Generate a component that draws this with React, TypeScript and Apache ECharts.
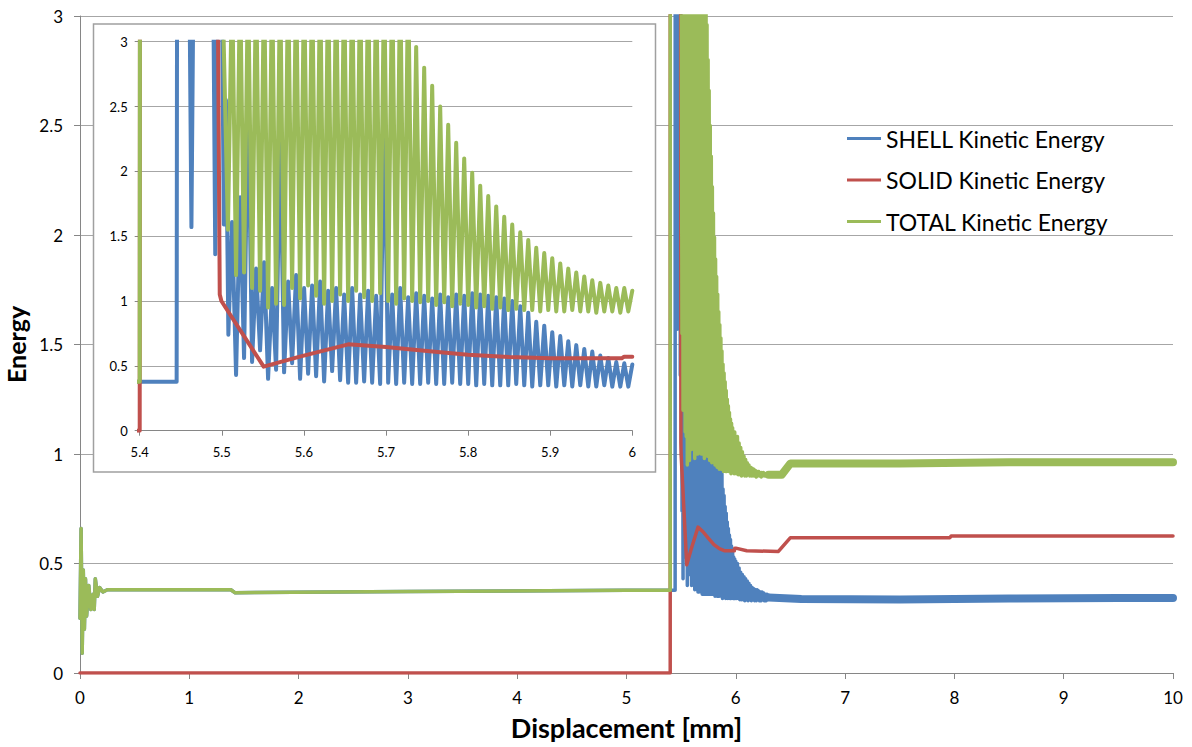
import React, { useEffect, useRef } from 'react';
import * as echarts from 'echarts';

const FONT = 'Lato, "Open Sans", sans-serif';
const BLUE = '#4F81BD';
const RED = '#C0504D';
const GREEN = '#9BBB59';
const GRID = '#A6A6A6';
const AXIS = '#868686';

const SHELL = 'SHELL Kinetic Energy';
const SOLID = 'SOLID Kinetic Energy';
const TOTAL = 'TOTAL Kinetic Energy';
const legendNames = [SHELL, SOLID, TOTAL];

// ---- before the contact (x < 5.4) ----
const totalStart: number[][] = [
  [0, 0.25], [0.01, 0.66], [0.02, 0.09], [0.03, 0.47], [0.04, 0.2], [0.05, 0.43], [0.06, 0.26],
  [0.08, 0.4], [0.1, 0.29], [0.12, 0.36], [0.13, 0.29], [0.14, 0.43], [0.16, 0.35], [0.18, 0.39],
  [0.21, 0.37], [0.25, 0.38], [1.38, 0.38], [1.42, 0.366], [1.6, 0.368], [3.0, 0.372], [5.0, 0.378], [5.4, 0.378],
];
const shellStart: number[][] = [
  [0, 0.25], [0.01, 0.66], [0.02, 0.09], [0.03, 0.47], [0.04, 0.2], [0.05, 0.43], [0.06, 0.26],
  [0.08, 0.4], [0.1, 0.29], [0.12, 0.36], [0.13, 0.29], [0.14, 0.43], [0.16, 0.35], [0.18, 0.39],
  [0.21, 0.37], [0.25, 0.38], [1.38, 0.38], [1.42, 0.366], [1.6, 0.368], [3.0, 0.372], [5.0, 0.378], [5.4, 0.378],
];
const solidStart: number[][] = [[0, 0], [5.4, 0]];

// ---- the jump at contact (5.4 - 5.51) ----
const totalJump: number[][] = [[5.4, 0.378], [5.4003, 3.5], [5.5005, 3.5], [5.5075, 1.55]];
const shellJump: number[][] = [
  [5.445, 0.378], [5.4455, 3.5], [5.4605, 3.5], [5.463, 1.57], [5.4655, 3.5], [5.4895, 3.5],
  [5.492, 1.36], [5.4945, 3.5], [5.5, 3.5], [5.5025, 1.59], [5.505, 2.55], [5.508, 0.74],
];
const solidPath: number[][] = [
  [5.4, 0], [5.4003, 3.5], [5.495, 3.5], [5.4975, 1.05], [5.4995, 1.0], [5.551, 0.494], [5.595, 0.571],
  [5.654, 0.666], [5.7, 0.645], [5.75, 0.615], [5.8, 0.586], [5.85, 0.568], [5.9, 0.558],
  [5.987, 0.558], [5.99, 0.57], [6.0, 0.57],
];
const solidEnd: number[][] = [
  [6.1, 0.558], [6.39, 0.555], [6.45, 0.59], [6.5, 0.618], [7.96, 0.618], [7.97, 0.626], [10, 0.626],
];

// ---- oscillation cycles 5.51 - 6.0 (sample grid of the peaks) ----
const cycleStart = 5.5125;
const cycleStep = 0.00975;
const totalPeaks = [
  3.5, 3.5, 3.5, 3.5, 3.5, 3.5, 3.5, 3.5, 3.5, 3.5, 3.5, 3.5, 3.5, 3.5, 3.5, 3.5, 3.5, 3.5, 3.5, 3.5, 3.5, 3.5, 3.5,
  2.96, 2.8, 2.66, 2.5, 2.36, 2.22, 2.1, 1.99, 1.89, 1.81, 1.73, 1.65, 1.59, 1.53, 1.47, 1.41, 1.37, 1.33,
  1.29, 1.25, 1.22, 1.19, 1.16, 1.14, 1.12, 1.1, 1.1, 1.08,
];
const totalTroughs = [
  1.2, 1.22, 1.1, 1.08, 0.95, 0.98, 0.97, 1.1, 1.02, 1.12, 1.04, 0.98, 1.0, 1.05, 1.0, 1.08, 1.03, 1.0, 1.06, 1.0,
  0.98, 1.02, 1.0, 0.99, 1.0, 0.97, 0.99, 0.96, 0.98, 0.97, 0.95, 0.96, 0.94, 0.95, 0.93, 0.94, 0.93, 0.93, 0.92, 0.93,
  0.92, 0.92, 0.93, 0.92, 0.92, 0.91, 0.92, 0.92, 0.91, 0.92,
];
const shellPeaks = [
  1.61, 1.8, 2.6, 1.25, 1.3, 1.1, 2.3, 1.15, 1.2, 1.1, 1.12, 1.15, 1.08, 1.1, 1.05, 1.1, 1.05, 1.08, 1.04, 2.5,
  1.05, 1.1, 1.03, 1.06, 1.04, 1.02, 1.05, 1.03, 1.05, 1.04, 1.06, 1.05, 1.04, 1.03, 1.02, 1.0, 0.96, 0.91, 0.84, 0.81,
  0.76, 0.73, 0.69, 0.66, 0.63, 0.61, 0.58, 0.56, 0.53, 0.52, 0.51,
];
const shellTroughs = [
  0.43, 0.56, 0.53, 0.62, 0.4, 0.47, 0.45, 0.52, 0.4, 0.44, 0.42, 0.38, 0.46, 0.39, 0.37, 0.37, 0.38, 0.37, 0.36, 0.37,
  0.36, 0.37, 0.36, 0.36, 0.37, 0.36, 0.36, 0.37, 0.36, 0.36, 0.35, 0.36, 0.35, 0.35, 0.35, 0.36, 0.35, 0.34, 0.35, 0.35,
  0.34, 0.35, 0.34, 0.35, 0.34, 0.34, 0.35, 0.34, 0.34, 0.34,
];

// ---- decay after 6.0 (main chart only) ----
const decayStart = 6.0075;
const decayStep = 0.015;
const shellDecayLows = [0.34, 0.34, 0.335, 0.335, 0.335, 0.33, 0.335, 0.33, 0.335, 0.33, 0.335, 0.33, 0.33, 0.335, 0.33, 0.33, 0.335, 0.33, 0.33, 0.335];
const shellDecayHighs = [0.5, 0.48, 0.46, 0.45, 0.44, 0.43, 0.42, 0.41, 0.4, 0.39, 0.385, 0.38, 0.38, 0.375, 0.37, 0.37, 0.365, 0.36, 0.36, 0.355];
const totalDecayLows = [0.91, 0.905, 0.905, 0.9, 0.905, 0.9, 0.9, 0.905, 0.9, 0.9, 0.9, 0.9, 0.895, 0.9, 0.9, 0.895, 0.9, 0.9, 0.9, 0.9];
const totalDecayHighs = [1.08, 1.05, 1.03, 1.01, 0.99, 0.975, 0.96, 0.95, 0.94, 0.935, 0.93, 0.925, 0.92, 0.92, 0.915, 0.915, 0.915, 0.91, 0.91, 0.91];

// ---- steady noisy bands (drawn thick) ----
const shellTail: number[][] = [[6.3, 0.345], [6.6, 0.338], [7.5, 0.336], [8.5, 0.34], [9.5, 0.342], [10, 0.342]];
const totalTail: number[][] = [[6.3, 0.905], [6.42, 0.905], [6.5, 0.957], [7.5, 0.957], [8.5, 0.962], [10, 0.962]];

function peaksFirst(x0: number, step: number, highs: number[], lows: number[]) {
  const pts: number[][] = [];
  highs.forEach((h, i) => {
    pts.push([x0 + i * step, h]);
    if (i < lows.length) pts.push([x0 + i * step + step / 2, lows[i]]);
  });
  return pts;
}
function lowsFirst(x0: number, step: number, lows: number[], highs: number[]) {
  const pts: number[][] = [];
  lows.forEach((l, i) => {
    pts.push([x0 + i * step, l]);
    if (i < highs.length) pts.push([x0 + i * step + step / 2, highs[i]]);
  });
  return pts;
}

export default function App() {
  const ref = useRef<HTMLDivElement>(null);
  useEffect(() => {
    if (!ref.current) return;
    const chart = echarts.init(ref.current, undefined, { renderer: 'svg' });

    const shellCycles = peaksFirst(cycleStart, cycleStep, shellPeaks, shellTroughs);
    const totalCycles = peaksFirst(cycleStart, cycleStep, totalPeaks, totalTroughs);
    const shellInset = [...shellStart, ...shellJump, ...shellCycles];
    const totalInset = [...totalStart, ...totalJump, ...totalCycles];
    const solidInset = [...solidStart, ...solidPath];
    const shellMain = [...shellInset, ...lowsFirst(decayStart, decayStep, shellDecayLows, shellDecayHighs)];
    const totalMain = [...totalInset, ...lowsFirst(decayStart, decayStep, totalDecayLows, totalDecayHighs)];
    const solidMain = [...solidInset, ...solidEnd];

    const line = (name: string, color: string, data: number[][], grid: number, width: number, z: number) => ({
      name,
      type: 'line',
      xAxisIndex: grid,
      yAxisIndex: grid,
      data,
      z,
      showSymbol: false,
      symbol: 'none',
      clip: true,
      color,
      itemStyle: { color },
      lineStyle: { color, width, join: 'round', cap: 'round' },
      emphasis: { disabled: true },
    });

    const labelStyle = (size: number) => ({ fontFamily: FONT, fontSize: size, color: '#000' });

    chart.setOption({
      animation: false,
      backgroundColor: '#fff',
      textStyle: { fontFamily: FONT },
      grid: [
        { left: 80, right: 19, top: 16, bottom: 74, outerBoundsMode: 'none' },
        { left: 139.7, right: 559.7, top: 41.7, bottom: 316.3, outerBoundsMode: 'none' },
      ],
      xAxis: [
        {
          type: 'value', gridIndex: 0, min: 0, max: 10, interval: 1, z: 0,
          axisLine: { show: true, lineStyle: { color: AXIS, width: 1 } },
          axisTick: { show: true, length: 6, lineStyle: { color: AXIS } },
          splitLine: { show: false },
          axisLabel: { ...labelStyle(17), margin: 16 },
          name: 'Displacement [mm]', nameLocation: 'middle', nameGap: 41,
          nameTextStyle: { fontFamily: FONT, fontSize: 27, fontWeight: 'bold', color: '#000' },
        },
        {
          type: 'value', gridIndex: 1, min: 5.4, max: 6, interval: 0.1, z: 2,
          axisLine: { show: true, lineStyle: { color: AXIS, width: 1 } },
          axisTick: { show: true, length: 5, lineStyle: { color: AXIS } },
          splitLine: { show: false },
          axisLabel: { ...labelStyle(13), margin: 15 },
        },
      ],
      yAxis: [
        {
          type: 'value', gridIndex: 0, min: 0, max: 3, interval: 0.5, z: 0,
          axisLine: { show: true, lineStyle: { color: AXIS, width: 1 } },
          axisTick: { show: true, length: 6, lineStyle: { color: AXIS } },
          splitLine: { show: true, lineStyle: { color: GRID, width: 1 } },
          axisLabel: { ...labelStyle(17), margin: 17 },
          name: 'Energy', nameLocation: 'middle', nameGap: 44,
          nameTextStyle: { fontFamily: FONT, fontSize: 25, fontWeight: 'bold', color: '#000' },
        },
        {
          type: 'value', gridIndex: 1, min: 0, max: 3, interval: 0.5, z: 2,
          axisLine: { show: true, lineStyle: { color: AXIS, width: 1 } },
          axisTick: { show: true, length: 5, lineStyle: { color: AXIS } },
          splitLine: { show: true, lineStyle: { color: GRID, width: 1 } },
          axisLabel: { ...labelStyle(13), margin: 12 },
        },
      ],
      legend: {
        orient: 'vertical',
        left: 847,
        top: 126,
        padding: 0,
        itemWidth: 34,
        itemHeight: 3,
        itemGap: 16.5,
        selectedMode: false,
        textStyle: { ...labelStyle(23), lineHeight: 25 },
        data: legendNames.map((n) => ({ name: n, icon: 'rect' })),
      },
      graphic: [
        {
          type: 'rect', z: 1, silent: true,
          shape: { x: 93.5, y: 24, width: 562, height: 448 },
          style: { fill: '#fff', stroke: '#A0A0A0', lineWidth: 1.5 },
        },
      ],
      series: [
        line(SHELL, BLUE, shellMain, 0, 3.5, 3),
        line(SHELL, BLUE, shellTail, 0, 8, 3),
        line(SOLID, RED, solidMain, 0, 3.5, 4),
        line(TOTAL, GREEN, totalMain, 0, 3.5, 5),
        line(TOTAL, GREEN, totalTail, 0, 8, 5),
        line(SHELL, BLUE, shellInset, 1, 4, 6),
        line(SOLID, RED, solidInset, 1, 4, 7),
        line(TOTAL, GREEN, totalInset, 1, 4, 8),
      ],
    });
    return () => chart.dispose();
  }, []);
  return <div ref={ref} style={{ position: 'absolute', left: 0, top: 0, width: 1192, height: 747 }} />;
}
